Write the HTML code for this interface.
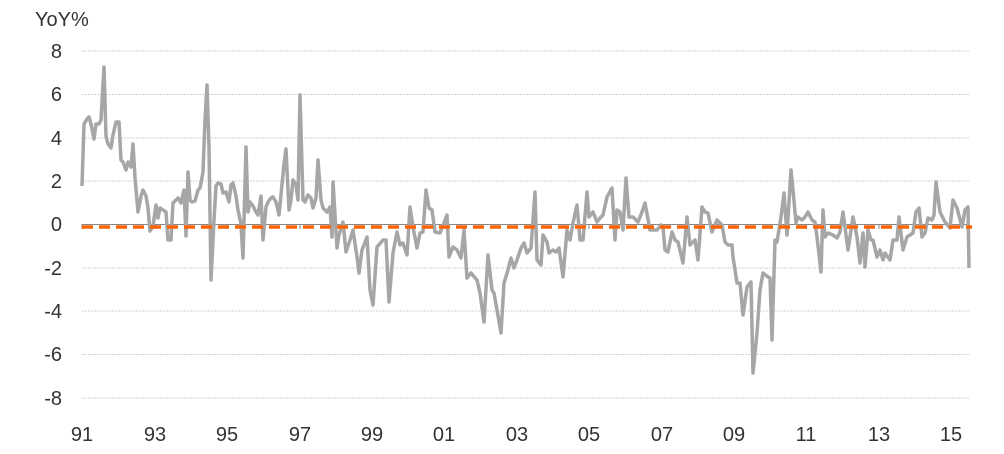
<!DOCTYPE html>
<html><head><meta charset="utf-8"><style>
html,body{margin:0;padding:0;background:#fff;}
svg{display:block;font-family:"Liberation Sans",sans-serif;}
</style></head><body>
<svg width="1004" height="454" viewBox="0 0 1004 454">
<g stroke="#d0d0d0" stroke-width="1" stroke-dasharray="2,1">
<line x1="82" x2="970" y1="51" y2="51"/>
<line x1="82" x2="970" y1="94.5" y2="94.5"/>
<line x1="82" x2="970" y1="138" y2="138"/>
<line x1="82" x2="970" y1="181" y2="181"/>
<line x1="82" x2="970" y1="268" y2="268"/>
<line x1="82" x2="970" y1="311" y2="311"/>
<line x1="82" x2="970" y1="354.5" y2="354.5"/>
<line x1="82" x2="970" y1="398" y2="398"/>
</g>
<line x1="82" x2="970" y1="224.5" y2="224.5" stroke="#888" stroke-width="1"/>
<g stroke="#888" stroke-width="1">
<line x1="82" x2="82" y1="224" y2="229"/><line x1="155" x2="155" y1="224" y2="229"/><line x1="227" x2="227" y1="224" y2="229"/><line x1="300" x2="300" y1="224" y2="229"/><line x1="372" x2="372" y1="224" y2="229"/><line x1="444" x2="444" y1="224" y2="229"/><line x1="517" x2="517" y1="224" y2="229"/><line x1="589" x2="589" y1="224" y2="229"/><line x1="662" x2="662" y1="224" y2="229"/><line x1="734" x2="734" y1="224" y2="229"/><line x1="806" x2="806" y1="224" y2="229"/><line x1="879" x2="879" y1="224" y2="229"/><line x1="951" x2="951" y1="224" y2="229"/>
</g>
<polyline fill="none" stroke="#a6a6a6" stroke-width="3.5" stroke-linejoin="round" points="82,186 84,124 87,119 89,117 91,124 94,139 96,124 99,124 101,120 104,67 106,136 108,144 111,148 113,135 116,122 119,122 121,160 123,162 126,170 128,162 131,167 133,144 135,178 138,212 141,196 143,190 146,196 148,208 150,231 153,226 156,205 158,218 160,208 163,210 166,212 168,240 171,240 173,203 176,200 178,198 181,203 184,190 186,236 188,172 190,200 192,202 195,201 198,190 200,188 203,172 205,120 207,85 209,148 211,280 214,220 216,186 218,183 221,184 223,193 226,192 229,202 231,185 233,183 236,196 238,210 241,224 243,258 246,147 248,212 250,202 253,206 256,212 258,215 261,196 263,240 266,207 268,202 271,198 273,197 276,202 279,215 281,195 284,164 286,149 289,210 291,200 293,180 296,185 298,200 300,95 303,200 305,202 308,195 311,198 313,208 316,198 318,160 321,200 323,208 327,212 330,207 332,237 333,182 337,248 339,235 343,222 346,252 350,240 353,230 357,257 359,273 362,250 367,237 370,290 373,305 377,247 383,240 386,240 389,302 393,253 397,232 400,245 403,243 407,255 410,207 413,227 417,248 420,233 423,232 426,190 429,208 432,210 435,232 440,233 447,215 449,257 453,247 457,250 461,258 464,230 467,278 471,273 477,280 480,293 484,322 488,255 492,290 494,293 497,310 501,333 504,283 508,270 511,258 514,268 517,260 521,248 524,243 527,253 531,248 535,192 537,260 541,265 543,235 547,242 549,253 553,250 556,252 559,248 563,277 567,230 570,240 573,223 577,205 580,240 583,240 587,192 589,217 593,212 597,222 600,218 603,215 607,197 612,188 615,240 617,210 620,212 623,230 626,178 629,217 633,217 638,222 642,212 645,203 650,230 653,230 657,230 661,225 663,227 665,250 668,252 672,232 675,240 678,242 683,263 687,217 690,245 695,240 698,260 702,207 705,212 708,213 712,232 717,220 722,225 725,242 728,245 732,245 733,257 737,283 740,283 743,315 747,287 751,282 753,373 757,333 760,290 763,273 768,277 770,278 772,340 775,240 777,242 781,217 784,193 787,235 791,170 793,190 796,223 798,217 802,220 805,217 808,212 812,220 815,222 817,237 821,272 823,210 825,237 828,233 833,235 837,238 840,232 843,212 848,250 853,217 857,237 860,263 863,233 865,267 868,230 871,240 873,240 877,257 880,250 883,260 885,253 890,260 893,240 897,240 899,217 903,250 907,237 910,235 913,233 916,212 919,208 922,237 925,233 928,218 932,220 934,215 936,182 940,212 945,222 950,228 953,200 957,208 962,227 965,210 968,207 969,268"/>
<line x1="82" x2="972" y1="227" y2="227" stroke="#ff6200" stroke-width="3.5" stroke-dasharray="11,6"/>
<g font-size="20" fill="#333" text-anchor="end">
<text x="62" y="58">8</text><text x="62" y="101">6</text><text x="62" y="145">4</text><text x="62" y="188">2</text><text x="62" y="231">0</text><text x="62" y="275">-2</text><text x="62" y="318">-4</text><text x="62" y="361">-6</text><text x="62" y="405">-8</text>
</g>
<text x="35" y="26" font-size="20" fill="#333">YoY%</text>
<g font-size="20" fill="#333" text-anchor="middle">
<text x="82" y="441">91</text><text x="155" y="441">93</text><text x="227" y="441">95</text><text x="300" y="441">97</text><text x="372" y="441">99</text><text x="444" y="441">01</text><text x="517" y="441">03</text><text x="589" y="441">05</text><text x="662" y="441">07</text><text x="734" y="441">09</text><text x="806" y="441">11</text><text x="879" y="441">13</text><text x="951" y="441">15</text>
</g>
</svg>
</body></html>
